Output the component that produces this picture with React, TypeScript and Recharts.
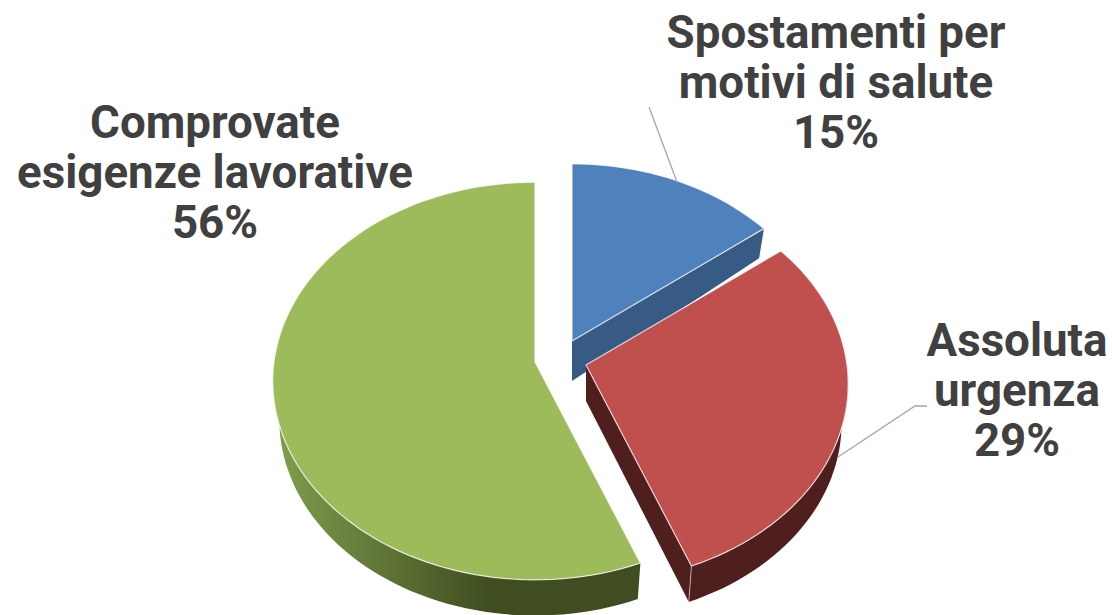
import React from "react";
import { PieChart, Pie, Cell } from "recharts";

const categories = ["Spostamenti per motivi di salute", "Assoluta urgenza", "Comprovate esigenze lavorative"];
const shares = [14.5, 29.5, 56];
const labelLines = [
  ["Spostamenti per", "motivi di salute", "15%"],
  ["Assoluta", "urgenza", "29%"],
  ["Comprovate", "esigenze lavorative", "56%"],
];
const topColors = ["#4f81bd", "#c0504d", "#9ebb5b"];
const wallColors = ["#375b84", "#4f1f1d", "url(#greenWall)"];

// styling/layout of the exploded 3D projection
const explode = [{ dx: 37, dy: -21 }, { dx: 51, dy: 3 }, { dx: 0, dy: 0 }];
const sliceScale = [0.985, 1, 1];
const labelPos = [{ x: 836, y: 48 }, { x: 1017, y: 356 }, { x: 215, y: 138 }];
const leaders = ["M649,107 L677,182", "M838,457 L915,406 L927,406", ""];
const RY_RATIO = 197 / 261;
const PERSP = 0.0955;

const DEG = Math.PI / 180;
function project(theta: number, rx: number) {
  const u = Math.sin(theta * DEG);
  const v = Math.cos(theta * DEG);
  const w = 1 + PERSP * v;
  return { x: (rx * u) / w, y: (-rx * RY_RATIO * v) / w, v };
}
function depthAt(v: number) {
  return v > 0 ? 39 - 18 * v : 39;
}
function bottom(theta: number, rx: number) {
  const p = project(theta, rx);
  return { x: p.x * 0.975, y: p.y * 0.985 + depthAt(p.v) };
}
function arcPts(a: number, b: number, f: (t: number) => { x: number; y: number }, ox: number, oy: number) {
  const n = Math.max(8, Math.ceil(Math.abs(b - a) / 2));
  const pts: string[] = [];
  for (let i = 0; i <= n; i++) {
    const p = f(a + ((b - a) * i) / n);
    pts.push(`${(ox + p.x).toFixed(1)},${(oy + p.y).toFixed(1)}`);
  }
  return pts;
}

function SliceShape(props: any) {
  const { cx, cy, outerRadius, startAngle, endAngle, index } = props;
  const i = index ?? 0;
  const t0 = 90 - startAngle;
  const t1 = 90 - endAngle;
  const ox = cx + explode[i].dx;
  const oy = cy + explode[i].dy;
  const r = outerRadius * sliceScale[i];
  const top = (t: number) => project(t, r);
  const bot = (t: number) => bottom(t, r);
  const topArc = arcPts(t0, t1, top, ox, oy);
  const walls: string[] = [];
  if (i === 0 || i === 1) {
    // radial wall facing the viewer
    const a = top(t1), b = bot(t1);
    const h = i === 0 ? 40 : 36;
    walls.push(`M${ox},${oy} L${ox + a.x},${oy + a.y} L${ox + b.x},${oy + b.y} L${ox},${oy + h} Z`);
  }
  if (i === 1) {
    const tEnd = 90;
    walls.push(`M${[...arcPts(tEnd, t1, top, ox, oy), ...arcPts(t1, tEnd, bot, ox, oy)].join(" L")} Z`);
  }
  if (i === 2) {
    const tEnd = 272;
    walls.push(`M${[...arcPts(t0, tEnd, top, ox, oy), ...arcPts(tEnd, t0, bot, ox, oy)].join(" L")} Z`);
  }
  const cornerT = i === 2 ? t0 : t1;
  const corner = top(cornerT);
  const cornerB = bot(cornerT);
  return (
    <g>
      {i === 2 && (
        <defs>
          <linearGradient id="greenWall" gradientUnits="userSpaceOnUse" x1="280" y1="0" x2="490" y2="0">
            <stop offset="0" stopColor="#7f9c4c" />
            <stop offset="1" stopColor="#3f4d20" />
          </linearGradient>
        </defs>
      )}
      {walls.map((d, k) => (
        <path key={k} d={d} fill={wallColors[i]} stroke="none" />
      ))}
      <line
        x1={ox + corner.x}
        y1={oy + corner.y}
        x2={ox + cornerB.x}
        y2={oy + cornerB.y}
        stroke="#ffffff"
        strokeOpacity={i === 1 ? 0.55 : 0}
        strokeWidth={1}
      />
      <path
        d={`M${ox},${oy} L${topArc.join(" L")} Z`}
        fill={topColors[i]}
        stroke="#ffffff"
        strokeOpacity={0.75}
        strokeWidth={1.2}
        strokeLinejoin="round"
      />
    </g>
  );
}

function SliceLabel(props: any) {
  const i = props.index;
  const pos = labelPos[i];
  return (
    <g>
      {leaders[i] && <path d={leaders[i]} fill="none" stroke="#a6a6a6" strokeWidth={1.3} />}
      <text
        textAnchor="middle"
        fontFamily="Roboto, sans-serif"
        fontWeight={700}
        fontSize={45.7}
        fill="#404040"
      >
        {labelLines[i].map((line, k) => (
          <tspan key={k} x={pos.x} y={pos.y + k * 50}>
            {line}
          </tspan>
        ))}
      </text>
    </g>
  );
}

const rows = categories.map((name, i) => ({ name, value: shares[i] }));

export default function App() {
  return (
    <div style={{ position: "absolute", left: 0, top: 0, width: 1112, height: 615, background: "#fff" }}>
      <PieChart width={1112} height={615} margin={{ top: 0, right: 0, bottom: 0, left: 0 }}>
        <Pie
          data={rows}
          dataKey="value"
          nameKey="name"
          cx={535}
          cy={362}
          innerRadius={0}
          outerRadius={261}
          startAngle={90}
          endAngle={-270}
          stroke="none"
          isAnimationActive={false}
          shape={SliceShape}
          label={SliceLabel}
          labelLine={false}
        >
          {rows.map((r, i) => (
            <Cell key={r.name} fill={topColors[i]} />
          ))}
        </Pie>
      </PieChart>
    </div>
  );
}
